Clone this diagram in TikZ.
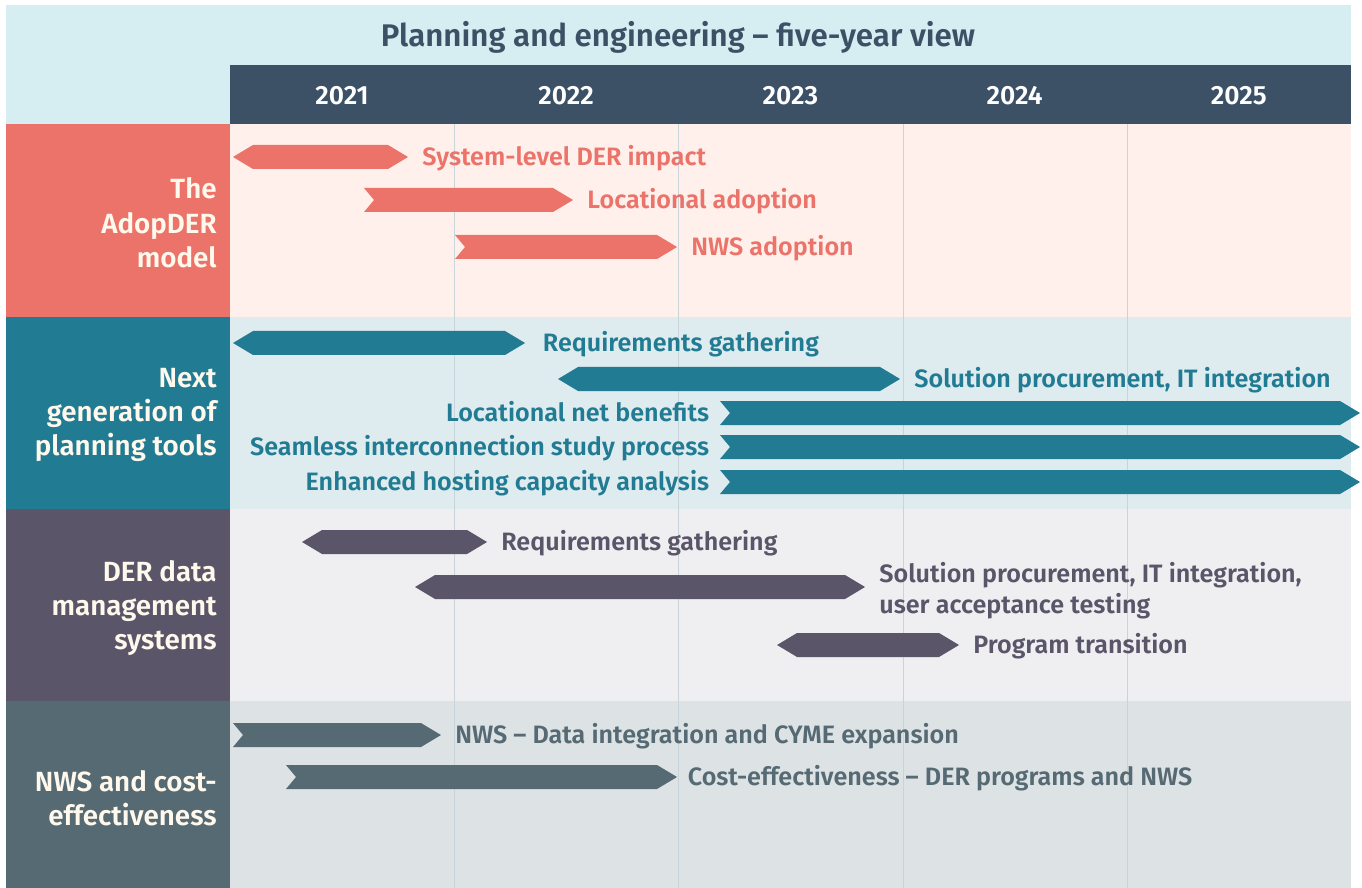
\documentclass[tikz,border=0pt]{standalone}
\usepackage{fontspec}
\setmainfont{Fira Sans}[BoldFont={Fira Sans SemiBold}]
\usetikzlibrary{positioning}
\definecolor{HeadBg}{HTML}{D6EDF2}
\definecolor{YearBar}{HTML}{3D5166}
\definecolor{Cream}{HTML}{FFF8EC}
\definecolor{Grid}{HTML}{C9D3DA}
\definecolor{Red}{HTML}{EB7369}
\definecolor{RedBg}{HTML}{FFF0EB}
\definecolor{Teal}{HTML}{217C93}
\definecolor{TealBg}{HTML}{DEEBEF}
\definecolor{Plum}{HTML}{5A5569}
\definecolor{PlumBg}{HTML}{EFEFF1}
\definecolor{Slate}{HTML}{566A74}
\definecolor{SlateBg}{HTML}{DDE2E5}

% bars: fill colour, start x, end x, centre y, name
\newcommand{\hexbar}[5]{%
  \fill[#1] (#2,#4) -- (#2+20,#4-12) -- (#3-20,#4-12) -- (#3,#4)
    -- (#3-20,#4+12) -- (#2+20,#4+12) -- cycle;
  \coordinate (#5s) at (#2,#4);
  \coordinate (#5e) at (#3,#4);
}
\newcommand{\flagbar}[5]{%
  \fill[#1] (#2,#4-12) -- (#3-20,#4-12) -- (#3,#4) -- (#3-20,#4+12)
    -- (#2,#4+12) -- (#2+10,#4) -- cycle;
  \coordinate (#5s) at (#2,#4);
  \coordinate (#5e) at (#3,#4);
}

\tikzset{
  lblbase/.style={inner sep=0pt, font=\fontsize{14.3}{17.6}\selectfont\bfseries, anchor=west},
  lbl/.style={lblbase, text height=0.95em, text depth=0pt},
  sidelbl/.style={inner sep=0pt, align=right, anchor=east, text=Cream,
    font=\fontsize{15.8}{19.6}\selectfont\bfseries},
  yearlbl/.style={inner sep=0pt, text=white, font=\fontsize{15}{17}\selectfont\bfseries}
}

\begin{document}
\begin{tikzpicture}[x=0.02cm, y=-0.02cm]
  \useasboundingbox (0,0) rectangle (1362,888);

  % header
  \fill[HeadBg] (6,5) rectangle (1351,124);
  \fill[YearBar] (230,65) rectangle (1351,124);
  \node[inner sep=0pt, text=YearBar, font=\fontsize{17.8}{20}\selectfont\bfseries] (title) at (678,37)
    {Planning and engineering -- five-year view};
  \foreach \yr [count=\i from 0] in {2021,2022,2023,2024,2025}
    \node[yearlbl] (y\yr) at (342+224.2*\i,96) {\yr};

  % section backgrounds
  \fill[Red] (6,124) rectangle (230,317);
  \fill[RedBg] (230,124) rectangle (1351,317);
  \fill[Teal] (6,317) rectangle (230,509);
  \fill[TealBg] (230,317) rectangle (1351,509);
  \fill[Plum] (6,509) rectangle (230,701);
  \fill[PlumBg] (230,509) rectangle (1351,701);
  \fill[Slate] (6,701) rectangle (230,888);
  \fill[SlateBg] (230,701) rectangle (1351,888);

  \foreach \gx in {454,678,903,1127}
    \draw[Grid, line width=0.5pt] (\gx,124) -- (\gx,888);

  % side labels
  \node[sidelbl] (adopder) at (217,223) {The\\AdopDER\\model};
  \node[sidelbl] (nextgen) at (217,415) {Next\\generation of\\planning tools};
  \node[sidelbl] (dermgmt) at (217,608) {DER data\\management\\systems};
  \node[sidelbl] (nwscost) at (217,798) {NWS and cost-\\effectiveness};

  % AdopDER model
  \hexbar{Red}{233}{408}{157}{impact}
  \node[lbl, text=Red, right=8pt of impacte] (impactlbl) {System-level DER impact};
  \flagbar{Red}{364}{573}{200}{locad}
  \node[lbl, text=Red, right=8pt of locade] (locadlbl) {Locational adoption};
  \flagbar{Red}{455}{677}{247}{nwsad}
  \node[lbl, text=Red, right=8pt of nwsade] (nwsadlbl) {NWS adoption};

  % next generation of planning tools
  \hexbar{Teal}{233}{525}{343}{reqa}
  \node[lbl, text=Teal, right=10pt of reqae] (reqalbl) {Requirements gathering};
  \hexbar{Teal}{558}{900}{379}{sola}
  \node[lbl, text=Teal, right=8pt of solae] (solalbl) {Solution procurement, IT integration};
  \flagbar{Teal}{720}{1360}{413}{lnb}
  \node[lbl, text=Teal, anchor=east, left=6pt of lnbs] (lnblbl) {Locational net benefits};
  \flagbar{Teal}{720}{1360}{447}{sics}
  \node[lbl, text=Teal, anchor=east, left=6pt of sicss] (sicslbl) {Seamless interconnection study process};
  \flagbar{Teal}{720}{1360}{482}{hca}
  \node[lbl, text=Teal, anchor=east, left=6pt of hcas] (hcalbl) {Enhanced hosting capacity analysis};

  % DER data management systems
  \hexbar{Plum}{302}{487}{542}{reqb}
  \node[lbl, text=Plum, right=8pt of reqbe] (reqblbl) {Requirements gathering};
  \hexbar{Plum}{415}{865}{587}{solb}
  \node[lblbase, text=Plum, align=left, right=8pt of solbe, yshift=-2pt] (solblbl)
    {Solution procurement, IT integration,\\user acceptance testing};
  \hexbar{Plum}{777}{959}{645}{prog}
  \node[lbl, text=Plum, right=8pt of proge] (proglbl) {Program transition};

  % NWS and cost-effectiveness
  \flagbar{Slate}{233}{441}{735}{cyme}
  \node[lbl, text=Slate, right=8pt of cymee] (cymelbl) {NWS -- Data integration and CYME expansion};
  \flagbar{Slate}{286}{677}{777}{cost}
  \node[lbl, text=Slate, right=6pt of coste] (costlbl) {Cost-effectiveness -- DER programs and NWS};
\end{tikzpicture}
\end{document}
